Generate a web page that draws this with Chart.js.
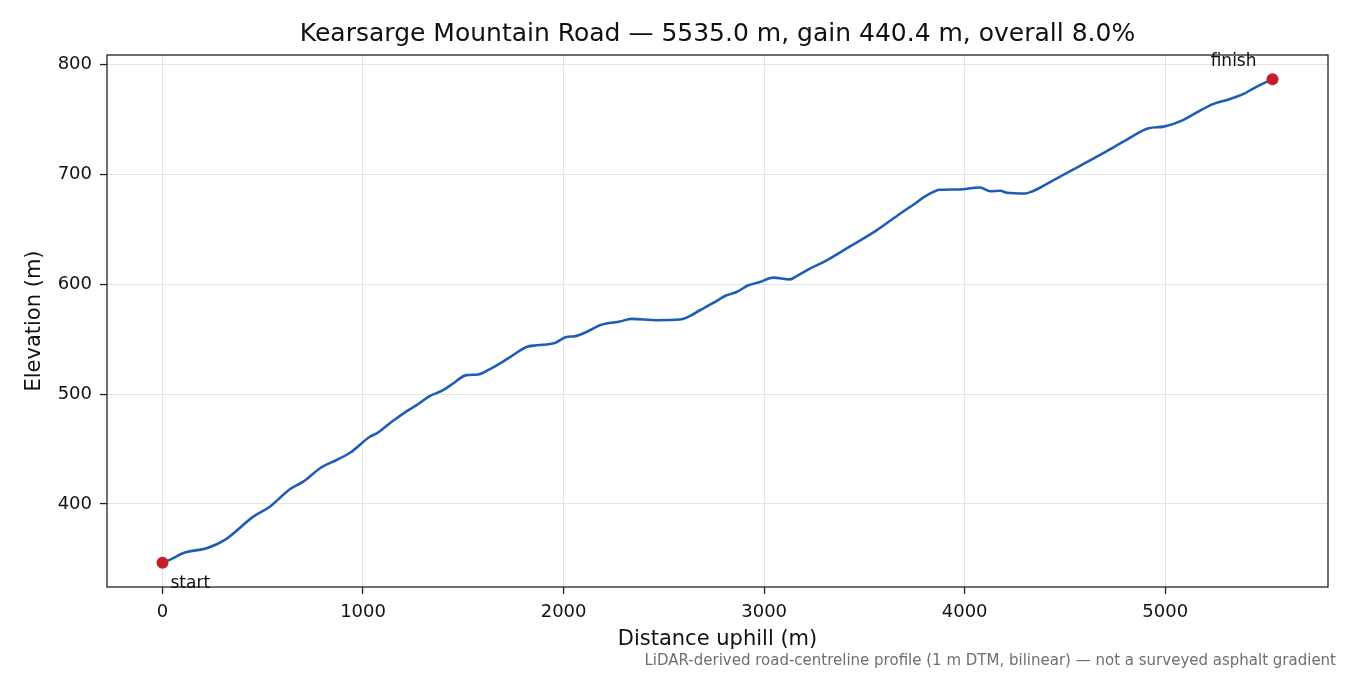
<!DOCTYPE html>
<html>
<head>
<meta charset="utf-8">
<script src="https://cdn.jsdelivr.net/npm/chart.js@4"></script>
<style>
  html, body { margin: 0; padding: 0; background: #fff; }
  #wrap { width: 1350px; height: 675px; }
</style>
</head>
<body>
<div id="wrap"><canvas id="profile" width="1350" height="675"></canvas></div>
<script>
// distance along the road (m) and elevation (m)
const distance = [0, 36, 111, 220, 311, 453, 535, 635, 702, 793, 868, 935, 1034, 1068, 1143, 1226, 1267, 1332,
    1399, 1449, 1515, 1573, 1623, 1682, 1748, 1815, 1865, 1956, 2014, 2056, 2114, 2181, 2214, 2280, 2339,
    2464, 2580, 2613, 2680, 2746, 2813, 2863, 2921, 2979, 3045, 3129, 3162, 3229, 3312, 3428, 3553, 3678,
    3744, 3811, 3877, 3969, 4077, 4127, 4177, 4210, 4301, 4335, 4410, 4510, 4609, 4709, 4809, 4917, 4992,
    5091, 5158, 5241, 5324, 5391, 5441, 5535];
const elevation = [346.4, 349.1, 355.7, 359.7, 367.3, 388.5, 397.5, 413.4, 420.3, 433.4, 440.0, 446.6, 461.2, 464.3, 474.8, 485.5, 490.0, 498.2,
    503.6, 509.7, 517.3, 517.9, 521.8, 527.9, 535.5, 543.0, 544.5, 546.6, 552.1, 552.7, 556.6, 562.7, 564.3, 566.1, 568.5,
    567.3, 567.9, 569.7, 576.4, 583.0, 590.0, 593.0, 599.1, 602.1, 606.1, 604.5, 607.5, 614.3, 621.8, 634.5, 648.2, 664.3,
    672.5, 680.9, 686.1, 686.4, 688.2, 684.8, 685.2, 683.4, 682.7, 684.5, 691.5, 701.5, 711.2, 721.2, 731.8, 742.1, 743.6,
    749.7, 756.6, 764.3, 768.8, 773.4, 778.5, 786.8];
const endLabels = ["start", "finish"];
const xTicks = [0, 1000, 2000, 3000, 4000, 5000];
const yTicks = [400, 500, 600, 700, 800];

const totalLen = distance[distance.length - 1];
const gain = elevation[elevation.length - 1] - elevation[0];
const titleText = `Kearsarge Mountain Road \u2014 ${totalLen.toFixed(1)} m, gain ${gain.toFixed(1)} m, overall ${(gain / totalLen * 100).toFixed(1)}%`;
const footText = "LiDAR-derived road-centreline profile (1 m DTM, bilinear) \u2014 not a surveyed asphalt gradient";

const FONT = "'DejaVu Sans', sans-serif";
const xPad = totalLen * 0.05;
const yPad = gain * 0.05;

const points = distance.map((d, i) => ({ x: d, y: elevation[i] }));
const ends = [points[0], points[points.length - 1]];

// title over the plot area, box round it, end labels and the footnote
const extras = {
    id: "extras",
    afterDatasetsDraw(chart) {
        const { ctx, chartArea: a, scales } = chart;
        ctx.save();
        ctx.strokeStyle = "#222";
        ctx.lineWidth = 1.3;
        ctx.strokeRect(a.left, a.top, a.right - a.left, a.bottom - a.top);

        ctx.fillStyle = "#111";
        ctx.font = `25px ${FONT}`;
        ctx.textAlign = "center";
        ctx.textBaseline = "middle";
        ctx.fillText(titleText, (a.left + a.right) / 2, 34);

        ctx.font = `17px ${FONT}`;
        ctx.textBaseline = "alphabetic";
        const sx = scales.x.getPixelForValue(ends[0].x);
        const sy = scales.y.getPixelForValue(ends[0].y);
        ctx.textAlign = "left";
        ctx.fillText(endLabels[0], sx + 8, sy + 25);
        const fx = scales.x.getPixelForValue(ends[1].x);
        const fy = scales.y.getPixelForValue(ends[1].y);
        ctx.textAlign = "right";
        ctx.fillText(endLabels[1], fx - 16, fy - 13);

        ctx.fillStyle = "#6e6e6e";
        ctx.font = `15px ${FONT}`;
        ctx.fillText(footText, 1336, 665);
        ctx.restore();
    }
};

const plain = v => String(v);

new Chart("profile", {
    type: "scatter",
    data: {
        datasets: [
            {
                data: ends,
                backgroundColor: "#c41e2a",
                borderWidth: 0,
                pointRadius: 6,
                showLine: false
            },
            {
                data: points,
                showLine: true,
                borderColor: "#1f5db5",
                borderWidth: 2.6,
                pointRadius: 0,
                tension: 0.3,
                cubicInterpolationMode: "monotone"
            }
        ]
    },
    options: {
        responsive: false,
        animation: false,
        layout: { padding: { top: 55, left: 0, right: 22, bottom: 0 } },
        plugins: {
            legend: { display: false },
            tooltip: { enabled: false },
            title: { display: false }
        },
        scales: {
            x: {
                type: "linear",
                min: -xPad,
                max: totalLen + xPad,
                afterBuildTicks: s => { s.ticks = xTicks.map(v => ({ value: v })); },
                afterFit: s => { s.height = 88; },
                grid: { color: "#e3e3e3", lineWidth: 1.1, tickColor: "#222", tickWidth: 1.3, tickLength: 7, drawTicks: true },
                border: { display: false },
                ticks: { color: "#111", font: { family: FONT, size: 18 }, padding: 8, maxRotation: 0, callback: plain },
                title: { display: true, text: "Distance uphill (m)", color: "#111", font: { family: FONT, size: 21 }, padding: { bottom: 23 } }
            },
            y: {
                type: "linear",
                min: elevation[0] - yPad,
                max: elevation[elevation.length - 1] + yPad,
                afterBuildTicks: s => { s.ticks = yTicks.map(v => ({ value: v })); },
                afterFit: s => { s.width = 107; },
                grid: { color: "#e3e3e3", lineWidth: 1.1, tickColor: "#222", tickWidth: 1.3, tickLength: 7, drawTicks: true },
                border: { display: false },
                ticks: { color: "#111", font: { family: FONT, size: 18 }, padding: 8, callback: plain },
                title: { display: true, text: "Elevation (m)", color: "#111", font: { family: FONT, size: 21 }, padding: { top: 22 } }
            }
        }
    },
    plugins: [extras]
});
</script>
</body>
</html>
